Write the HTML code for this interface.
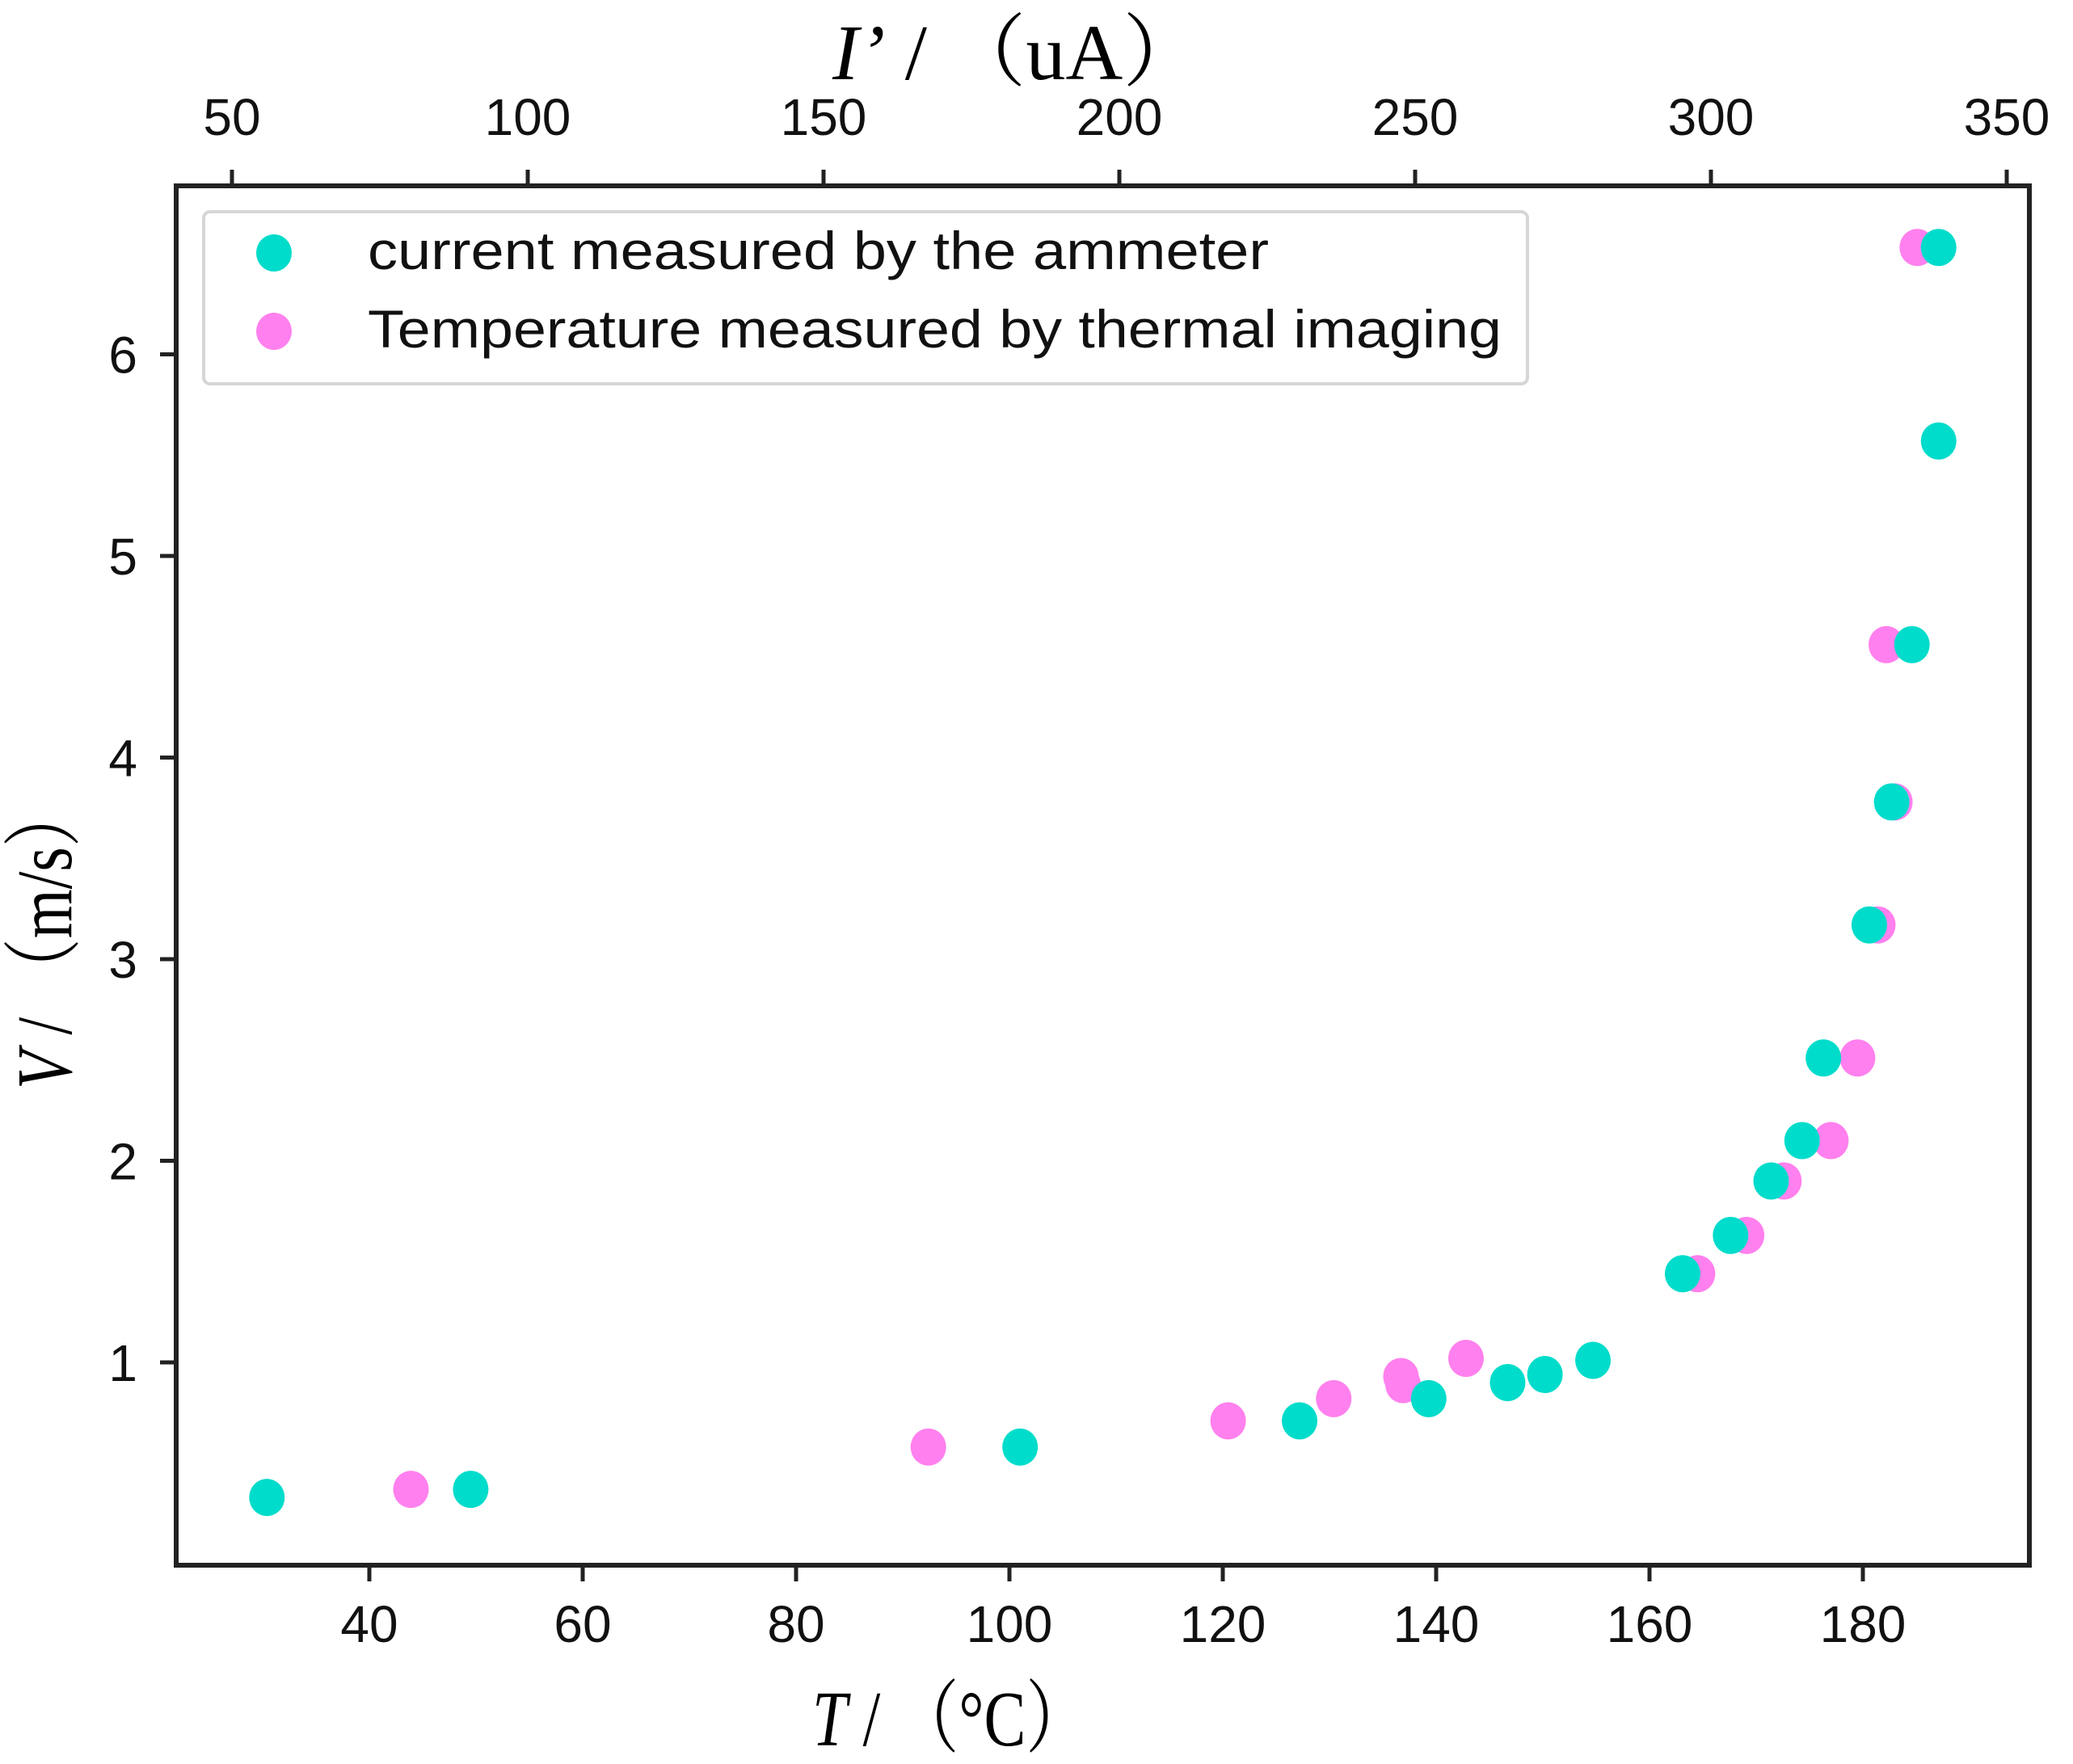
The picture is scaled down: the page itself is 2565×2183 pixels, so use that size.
<!DOCTYPE html>
<html><head><meta charset="utf-8"><style>
html,body{margin:0;padding:0;background:#fff;}
svg{display:block;}
</style></head><body>
<svg id="chart" width="2565" height="2183" viewBox="0 0 2565 2183" xmlns="http://www.w3.org/2000/svg">
<rect x="0" y="0" width="2565" height="2183" fill="#fff"/>
<g id="marks"></g>
<g id="axes"></g>
<g>
<rect x="252" y="262" width="1638" height="213" rx="8" fill="#fff" fill-opacity="0.85" stroke="#d6d6d6" stroke-width="4"/>
<ellipse cx="339" cy="313" rx="22" ry="23" fill="#00dccb"/>
<text x="455" y="333" textLength="1115" lengthAdjust="spacingAndGlyphs" font-family="Liberation Sans, sans-serif" font-size="66" fill="#111">current measured by the ammeter</text>
<ellipse cx="339" cy="410" rx="22" ry="23" fill="#ff80ee"/>
<text x="455" y="430" textLength="1403" lengthAdjust="spacingAndGlyphs" font-family="Liberation Sans, sans-serif" font-size="66" fill="#111">Temperature measured by thermal imaging</text>
</g>
<text x="1030" y="98" font-family="Liberation Serif, 'Noto Serif CJK SC', serif" font-size="98" fill="#000"><tspan font-style="italic">I’</tspan> / （uA）</text>
<text x="1005" y="2160" textLength="342" lengthAdjust="spacingAndGlyphs" font-family="Liberation Serif, 'Noto Serif CJK SC', serif" font-size="98" fill="#000"><tspan font-style="italic">T</tspan> / （°C）</text>
<text transform="translate(88,1159) rotate(-90)" text-anchor="middle" textLength="378" lengthAdjust="spacingAndGlyphs" font-family="Liberation Serif, 'Noto Serif CJK SC', serif" font-size="98" fill="#000"><tspan font-style="italic">V</tspan> / （m/s）</text>
</svg>
<script>
const ammeterT = [30.4,49.5,101,127.2,139.3,146.7,150.2,154.7,163.1,167.6,171.4,174.3,176.3,180.6,182.7,184.6,187.1,187.1];
const ammeterV = [0.33,0.37,0.58,0.71,0.82,0.90,0.94,1.01,1.44,1.63,1.90,2.10,2.51,3.17,3.78,4.56,5.57,6.53];
const thermalT = [43.9,92.4,120.5,130.4,136.7,136.9,142.8,164.5,169.1,172.6,177.0,179.5,181.4,183.0,182.2,185.1];
const thermalV = [0.37,0.58,0.71,0.82,0.93,0.89,1.02,1.44,1.63,1.90,2.10,2.51,3.17,3.78,4.56,6.53];
const xTicks = [40,60,80,100,120,140,160,180];
const topTicks = [50,100,150,200,250,300,350];
const yTicks = [1,2,3,4,5,6];

const L=218,R=2511,T=230,B=1937;
function xScale(t){return 985+(t-80)*13.2;}
function topScale(i){return 287+(i-50)*7.32;}
function yScale(v){return 1187-(v-3)*249.5;}
const NS='http://www.w3.org/2000/svg';
const marks=document.getElementById('marks');
const axes=document.getElementById('axes');
function mk(tag,attrs,parent){const e=document.createElementNS(NS,tag);for(const k in attrs)e.setAttribute(k,attrs[k]);parent.appendChild(e);return e;}

thermalT.forEach((t,i)=>{
  const c=mk('ellipse',{cx:xScale(t),cy:yScale(thermalV[i]),rx:22,ry:23,fill:'#ff80ee'},marks);
  
  
});
ammeterT.forEach((t,i)=>{
  const c=mk('ellipse',{cx:xScale(t),cy:yScale(ammeterV[i]),rx:22,ry:23,fill:'#00dccb'},marks);
  
  
});

const frame=mk('rect',{x:L,y:T,width:R-L,height:B-T,fill:'none',stroke:'#222','stroke-width':6},axes);


const font='Liberation Sans, sans-serif';
xTicks.forEach(t=>{
  const x=xScale(t);
  const l=mk('line',{x1:x,x2:x,y1:B,y2:B+20,stroke:'#222','stroke-width':5},axes);
  
  
  const tx=mk('text',{x:x,y:2032,'text-anchor':'middle','font-family':font,'font-size':64,fill:'#111'},axes);
  tx.textContent=t;
  
  
});
topTicks.forEach(t=>{
  const x=topScale(t);
  const l=mk('line',{x1:x,x2:x,y1:T,y2:T-20,stroke:'#222','stroke-width':5},axes);
  
  
  const tx=mk('text',{x:x,y:167,'text-anchor':'middle','font-family':font,'font-size':64,fill:'#111'},axes);
  tx.textContent=t;
  
  
});
yTicks.forEach(v=>{
  const y=yScale(v);
  const l=mk('line',{x1:L,x2:L-20,y1:y,y2:y,stroke:'#222','stroke-width':5},axes);
  
  
  const tx=mk('text',{x:170,y:y+23,'text-anchor':'end','font-family':font,'font-size':64,fill:'#111'},axes);
  tx.textContent=v;
  
  
});
</script>
</body></html>
